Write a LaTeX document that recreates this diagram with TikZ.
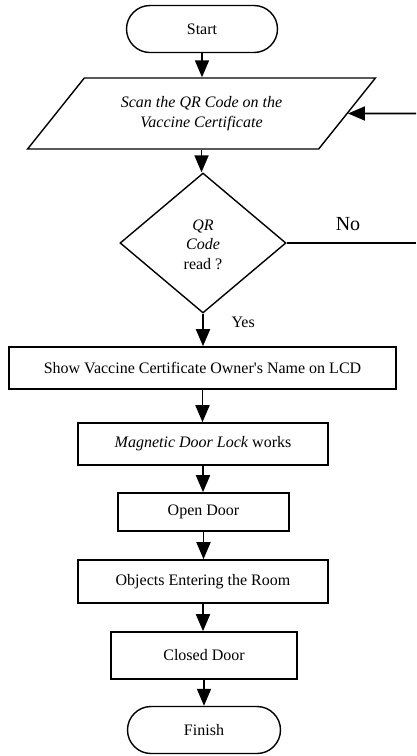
\documentclass[tikz,border=0pt]{standalone}
\usepackage{fontspec}
\setmainfont{Liberation Serif}
\usetikzlibrary{shapes.geometric,arrows.meta}

\begin{document}
\begin{tikzpicture}[x=1pt,y=-1pt,
every node/.style={font=\fontsize{16}{19.5}\selectfont},
box/.style={draw,line width=1.6pt,inner sep=2pt},
term/.style={draw,line width=1.4pt,rounded corners=23.5pt,minimum width=151pt,minimum height=47pt},
arr/.style={line width=1.8pt,-{Triangle[length=17pt,width=14pt]}}]
\useasboundingbox (0,0) rectangle (416,756);
\node[term] (start) at (202,29) {Start};
\node[draw,line width=1.4pt,trapezium,trapezium left angle=45,trapezium right angle=135,
  trapezium stretches=true,minimum width=349pt,minimum height=71pt,align=center,font=\fontsize{16}{19.5}\selectfont\itshape]
  (scan) at (201.5,113.5) {Scan the QR Code on the\\Vaccine Certificate};
\node[draw,line width=1.4pt,diamond,aspect=1.19,minimum width=166pt,minimum height=140pt,align=center,inner sep=0pt]
  (check) at (203,243) {\mbox{}\\[-5.5pt]\textit{QR}\\\textit{Code}\\read ?};
\node[box,minimum width=387pt,minimum height=42pt] (show) at (202.5,368) {Show Vaccine Certificate Owner\textquotesingle s Name on LCD};
\node[box,minimum width=250pt,minimum height=42pt] (lock) at (203,444) {\textit{Magnetic Door Lock} works};
\node[box,minimum width=171pt,minimum height=38pt] (open) at (203.5,512) {Open Door};
\node[box,minimum width=250pt,minimum height=43pt] (enter) at (203,581.5) {Objects Entering the Room};
\node[box,minimum width=186pt,minimum height=47pt] (closed) at (204,655.5) {Closed Door};
\node[term,minimum width=153pt] (finish) at (204,730) {Finish};
\coordinate (back) at (416,113.5);
\coordinate (out) at (416,243);
% main flow
\foreach \a/\b in {start/scan,scan/check,check/show,show/lock,lock/open,open/enter,enter/closed,closed/finish}{
\draw[arr] (\a.south) -- (\a.south |- \b.north);}
\node[anchor=west] (yes) at (228,322) {Yes};
% loop back
\draw[line width=1.6pt] (check.east) -- (out);
\node[font=\fontsize{20}{24}\selectfont] (no) at (348,224) {No};
\draw[arr] (back) -- (scan.east);
\end{tikzpicture}
\end{document}
